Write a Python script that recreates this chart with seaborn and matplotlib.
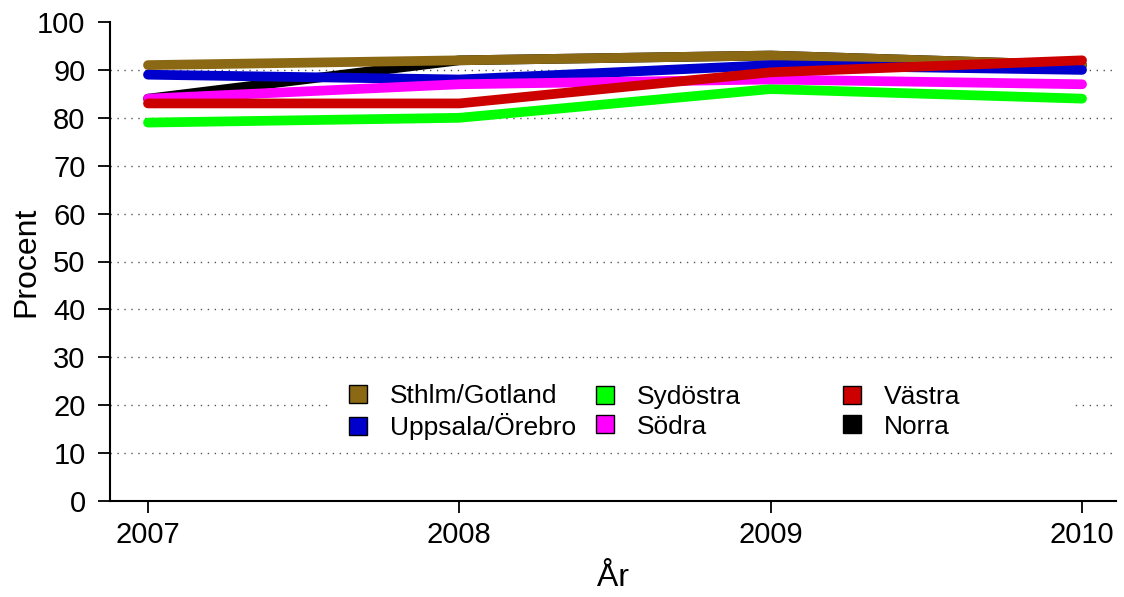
import numpy as np
import pandas as pd
import matplotlib
matplotlib.use("Agg")
import matplotlib.pyplot as plt
from matplotlib.patches import Patch, Rectangle
import seaborn as sns

# data
years = [2007, 2008, 2009, 2010]
sthlm_gotland = [91, 92, 93, 91]
uppsala_orebro = [89, 88, 91, 90]
sydostra = [79, 80, 86, 84]
sodra = [84, 87, 88, 87]
vastra = [83, 83, 89.5, 92]
norra = [84, 92, 93, 91]

regions = ["Sthlm/Gotland", "Uppsala/Örebro", "Sydöstra", "Södra", "Västra", "Norra"]
series = [sthlm_gotland, uppsala_orebro, sydostra, sodra, vastra, norra]
colors = ["#8B6914", "#0000CD", "#00FF00", "#FF00FF", "#CD0000", "#000000"]
# drawing order seen in the picture (black under brown, brown under blue, red on top)
draw_order = ["Norra", "Sthlm/Gotland", "Uppsala/Örebro", "Sydöstra", "Södra", "Västra"]

df = pd.DataFrame({
    "År": np.tile(years, len(regions)),
    "Procent": np.concatenate(series),
    "Region": np.repeat(regions, len(years)),
})
palette = dict(zip(regions, colors))

sns.set_style("ticks")
plt.rcParams["font.family"] = ["Liberation Sans", "DejaVu Sans"]
plt.rcParams["text.color"] = "black"
plt.rcParams["axes.labelcolor"] = "black"

fig = plt.figure(figsize=(11.24, 5.97), dpi=100)
W, H = 1124, 597
ax = fig.add_axes([110 / W, 1 - 501 / H, (1116 - 110) / W, (501 - 22) / H])

# dotted grid
for yv in range(10, 100, 10):
    ax.axhline(yv, color="#555555", lw=1.0, ls=(0, (1, 4)), zorder=0)

# white box behind the legend
ax.add_patch(Rectangle((328 / W, 1 - 440 / H), (1072 - 328) / W, (440 - 378) / H,
                       transform=fig.transFigure, facecolor="white", edgecolor="none",
                       zorder=1))

sns.lineplot(data=df, x="År", y="Procent", hue="Region", hue_order=draw_order,
             palette=palette, lw=7, legend=False, ax=ax, zorder=3)
for ln in ax.lines[9:]:
    ln.set_solid_capstyle("round")

ax.set_xlim(2006.878, 2010.109)
ax.set_ylim(0, 100)
ax.set_xticks(years)
ax.set_xticklabels([str(y) for y in years])
ax.set_yticks(range(0, 101, 10))

sns.despine(ax=ax)
ax.spines["left"].set_bounds(0, 100)
for s in ["left", "bottom"]:
    ax.spines[s].set_linewidth(1.5)
    ax.spines[s].set_color("black")
ax.tick_params(axis="both", direction="out", length=8.6, width=1.3, colors="black",
               labelsize=21)
ax.tick_params(axis="x", pad=6)
ax.tick_params(axis="y", pad=9)

ax.set_xlabel("År", fontsize=23, labelpad=10)
ax.set_ylabel("Procent", fontsize=23, labelpad=-3)

# legend in three columns
columns = [(["Sthlm/Gotland", "Uppsala/Örebro"], 349),
           (["Sydöstra", "Södra"], 596),
           (["Västra", "Norra"], 843)]
for labels, xpix in columns:
    handles = [Patch(facecolor=palette[l], edgecolor="black", linewidth=1.0) for l in labels]
    fig.legend(handles, labels, loc="center left",
               bbox_to_anchor=(xpix / W, 1 - 412 / H), frameon=False,
               fontsize=19, handlelength=0.68, handleheight=0.68,
               handletextpad=0.87, labelspacing=0.2, borderpad=0,
               borderaxespad=0, labelcolor="black")

fig.savefig("out.png", dpi=100)
